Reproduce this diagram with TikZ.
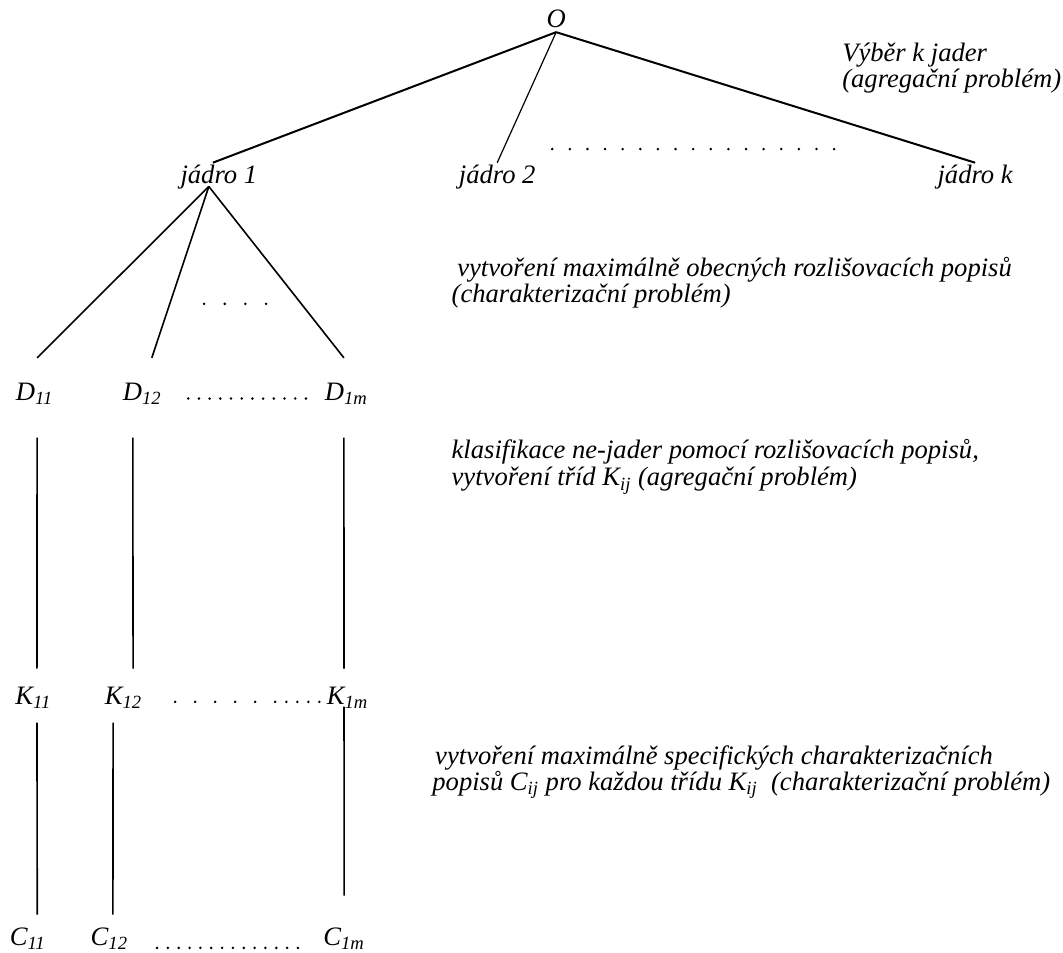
\documentclass[tikz,border=0pt]{standalone}
\usepackage{fontspec}
\setmainfont{Liberation Serif}
\usetikzlibrary{positioning}
\colorlet{penColor}{black}
\tikzset{
  lbl/.style={font=\itshape\fontsize{13.3bp}{11.5bp}\selectfont, inner sep=0pt, anchor=base},
  txt/.style={font=\itshape\fontsize{13.3bp}{11.5bp}\selectfont, inner sep=0pt, anchor=base west,
    text height=9.3bp, text depth=2.1bp},
  rowJ/.style={text height=10bp, text depth=1.5bp},
  rowD/.style={text height=21bp, text depth=18.5bp},
  rowK/.style={text height=17.5bp, text depth=9bp},
  rowC/.style={text height=15bp, text depth=0bp},
  edge/.style={penColor, line width=0.8bp},
  dotrow/.style={penColor, line width=1.4bp, line cap=round, dash pattern=on 0pt off #1},
}

\begin{document}
\begin{tikzpicture}
		\useasboundingbox (0,0) rectangle (18.75,16.81);
		% kořen a jádra
		\node [lbl, text depth=2bp] (O) at (9.81,16.32) {O};
		\node [lbl, rowJ] (j1) at (3.86,13.58) {jádro 1};
		\node [lbl, rowJ] (j2) at (8.77,13.58) {jádro 2};
		\node [lbl, rowJ] (jk) at (17.20,13.58) {jádro k};
		\draw [edge, line width=1bp] (O.south) -- ([xshift=-3bp]j1.north);
		\draw [edge, line width=0.6bp] (O.south) -- (j2.north);
		\draw [edge, line width=1bp] (O.south) -- (jk.north);
		\draw [dotrow=8.81bp] (9.74,14.18) -- (14.72,14.18);
		% popisy D
		\node [lbl, rowD] (D11) at (0.61,9.75) {D\textsubscript{11}};
		\node [lbl, rowD] (D12) at (2.51,9.75) {D\textsubscript{12}};
		\node [lbl, rowD] (D1m) at (6.11,9.75) {D\textsubscript{1m}};
		\draw [edge] ([xshift=-5bp]j1.south) -- ([xshift=1.25bp]D11.north);
		\draw [edge] ([xshift=-5bp]j1.south) -- ([xshift=4.75bp]D12.north);
		\draw [edge] ([xshift=-5bp]j1.south) -- ([xshift=-1.25bp]D1m.north);
		\draw [dotrow=10.33bp] (3.60,11.45) -- (4.71,11.45);
		\draw [dotrow=5.35bp] (3.32,9.78) -- (5.41,9.78);
		% třídy K
		\node [lbl, rowK] (K11) at (0.59,4.39) {K\textsubscript{11}};
		\node [lbl, rowK] (K12) at (2.18,4.39) {K\textsubscript{12}};
		\node [lbl, rowK, text depth=1bp] (K1m) at (6.13,4.39) {K\textsubscript{1m}};
		\draw [edge] ([xshift=1.25bp]D11.south) -- ([xshift=1.75bp]K11.north);
		\draw [edge] ([xshift=-4.75bp]D12.south) -- ([xshift=4.75bp]K12.north);
		\draw [edge] ([xshift=-1.25bp]D1m.south) -- ([xshift=-1.75bp]K1m.north);
		\draw [dotrow=10bp] (3.09,4.43) -- (4.86,4.43);
		\draw [dotrow=5.5bp] (5.05,4.43) -- (5.64,4.43);
		% charakteristiky C
		\node [lbl, rowC] (C11) at (0.49,0.14) {C\textsubscript{11}};
		\node [lbl, rowC] (C12) at (1.93,0.14) {C\textsubscript{12}};
		\node [lbl, rowC, text height=24.5bp] (C1m) at (6.07,0.14) {C\textsubscript{1m}};
		\draw [edge] ([xshift=1.75bp]K11.south) -- ([xshift=4.75bp]C11.north);
		\draw [edge] ([xshift=-5.25bp]K12.south) -- ([xshift=1.75bp]C12.north);
		\draw [edge] ([xshift=-1.75bp]K1m.south) -- (C1m.north);
		\draw [dotrow=5.42bp] (2.77,0.09) -- (5.27,0.09);
		% komentáře
		\node [txt] (vyber1) at (14.85,15.72) {Výběr k jader};
		\node [txt] (vyber2) at (14.85,15.26) {(agregační problém)};
		\node [txt] (obec1) at (8.06,11.94) {vytvoření maximálně obecných rozlišovacích popisů};
		\node [txt] (obec2) at (7.96,11.48) {(charakterizační problém)};
		\node [txt] (klas1) at (7.96,8.73) {klasifikace ne-jader pomocí rozlišovacích popisů,};
		\node [txt] (klas2) at (7.96,8.24) {vytvoření tříd K\textsubscript{ij} (agregační problém)};
		\node [txt] (spec1) at (7.67,3.33) {vytvoření maximálně specifických charakterizačních};
		\node [txt] (spec2) at (7.62,2.87) {popisů C\textsubscript{ij} pro každou třídu K\textsubscript{ij}\ \ (charakterizační problém)};
		\end{tikzpicture}
\end{document}
